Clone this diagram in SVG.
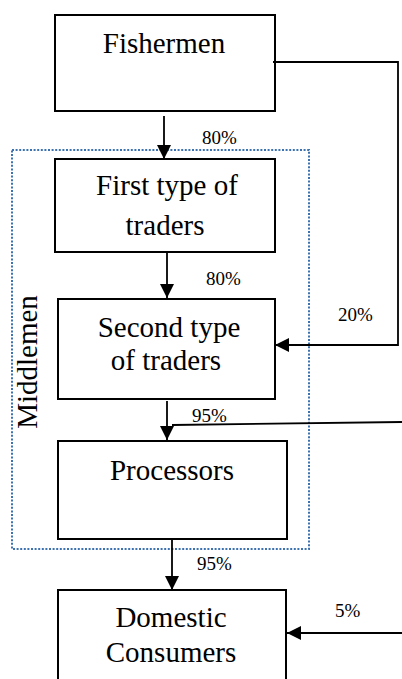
<svg xmlns="http://www.w3.org/2000/svg" width="402" height="679" viewBox="0 0 402 679">
  <defs>
    <marker id="arrow" markerUnits="userSpaceOnUse" markerWidth="15" markerHeight="15" refX="14" refY="7" orient="auto">
      <path d="M0,0 L14,7 L0,14 z" fill="#000"/>
    </marker>
    <style>
      .box { fill: #fff; stroke: #000; stroke-width: 2; }
      .name { font-family: "Liberation Serif", "Times New Roman", serif; font-size: 29px; fill: #000; text-anchor: middle; }
      .pct { font-family: "Liberation Serif", "Times New Roman", serif; font-size: 19px; fill: #000; }
      .link { fill: none; stroke: #000; stroke-width: 1.8; }
      .group { fill: none; stroke: #3d72b0; stroke-width: 2; stroke-dasharray: 2 1.6; }
    </style>
  </defs>
  <rect width="402" height="679" fill="#fff"/>

  <!-- middlemen grouping -->
  <g id="middlemen">
    <rect class="group" x="12" y="150" width="297" height="399"/>
    <text class="name" font-size="28" transform="translate(37,362) rotate(-90)">Middlemen</text>
  </g>

  <g id="fishermen">
    <rect class="box" x="55" y="15" width="220" height="96"/>
    <text class="name" x="164" y="53">Fishermen</text>
  </g>

  <g id="first-traders">
    <rect class="box" x="55" y="159" width="220" height="93"/>
    <text class="name" x="167" y="195">First type of</text>
    <text class="name" x="165" y="235">traders</text>
  </g>

  <g id="second-traders">
    <rect class="box" x="58" y="299" width="217" height="100"/>
    <text class="name" x="169" y="337">Second type</text>
    <text class="name" x="166" y="370">of traders</text>
  </g>

  <g id="processors">
    <rect class="box" x="58" y="441" width="229" height="98"/>
    <text class="name" x="172" y="480">Processors</text>
  </g>

  <g id="domestic-consumers">
    <rect class="box" x="58" y="590" width="228" height="100"/>
    <text class="name" x="171" y="627">Domestic</text>
    <text class="name" x="171" y="662">Consumers</text>
  </g>

  <g id="connectors">
    <path class="link" d="M164,116 V159" marker-end="url(#arrow)"/>
    <path class="link" d="M273,62 H398 V345 H275" marker-end="url(#arrow)"/>
    <path class="link" d="M167,252 V298" marker-end="url(#arrow)"/>
    <path class="link" d="M167,401 V440" marker-end="url(#arrow)"/>
    <path class="link" d="M402,422 L172,425"/>
    <path class="link" d="M172,539 V590" marker-end="url(#arrow)"/>
    <path class="link" d="M402,633 H287" marker-end="url(#arrow)"/>

    <text class="pct" x="202" y="144">80%</text>
    <text class="pct" x="206" y="285">80%</text>
    <text class="pct" x="338" y="321">20%</text>
    <text class="pct" x="192" y="422">95%</text>
    <text class="pct" x="197" y="570">95%</text>
    <text class="pct" x="335" y="617">5%</text>
  </g>
</svg>
